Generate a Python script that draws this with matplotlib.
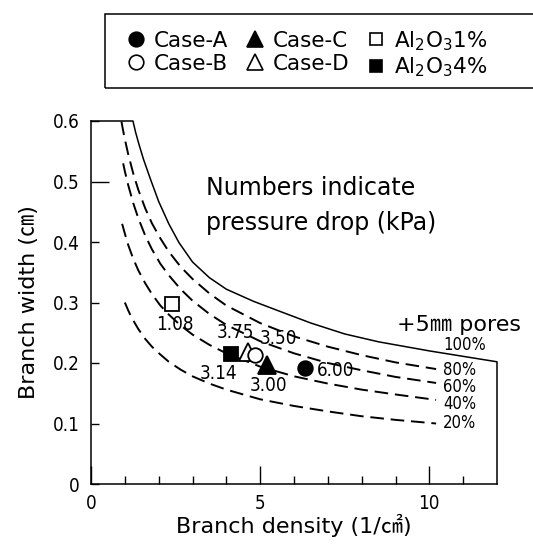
import matplotlib
matplotlib.use('Agg')
import matplotlib.pyplot as plt
from matplotlib.lines import Line2D
from matplotlib.patches import Rectangle
from matplotlib import font_manager as fm

# ---------------- data ----------------
# 100 % curve (solid boundary)
c100_x = [1.24, 1.32, 1.42, 1.55, 1.75, 2.0, 2.3, 2.6, 3.0, 3.5, 4.0, 4.8, 5.6, 6.5, 7.5, 8.5, 10.0, 11.0, 12.0]
c100_y = [0.600, 0.581, 0.561, 0.537, 0.505, 0.467, 0.430, 0.399, 0.367, 0.341, 0.322, 0.302, 0.285, 0.266, 0.248, 0.235, 0.220, 0.211, 0.202]
# 80 %
c80_x = [0.9, 0.95, 1.0, 1.1, 1.25, 1.4, 1.6, 1.8, 2.05, 2.3, 2.65, 3.0, 3.5, 4.0, 5.0, 6.0, 7.0, 8.0, 9.0, 10.2]
c80_y = [0.599, 0.584, 0.570, 0.545, 0.513, 0.486, 0.456, 0.431, 0.406, 0.384, 0.359, 0.339, 0.315, 0.295, 0.266, 0.244, 0.227, 0.213, 0.201, 0.190]
# 60 %
c60_x = [0.95, 1.0, 1.1, 1.25, 1.4, 1.6, 1.8, 2.05, 2.3, 2.65, 3.0, 3.5, 4.0, 5.0, 6.0, 7.0, 8.0, 9.0, 10.2]
c60_y = [0.530, 0.517, 0.494, 0.464, 0.439, 0.411, 0.388, 0.364, 0.345, 0.322, 0.303, 0.281, 0.263, 0.236, 0.216, 0.200, 0.188, 0.177, 0.167]
# 40 %
c40_x = [0.92, 1.0, 1.1, 1.25, 1.4, 1.6, 1.8, 2.05, 2.3, 2.65, 3.0, 3.5, 4.0, 5.0, 6.0, 7.0, 8.0, 9.0, 10.2]
c40_y = [0.430, 0.414, 0.395, 0.372, 0.353, 0.332, 0.314, 0.295, 0.280, 0.262, 0.247, 0.230, 0.216, 0.194, 0.178, 0.166, 0.156, 0.148, 0.139]
# 20 %
c20_x = [1.0, 1.1, 1.2, 1.4, 1.6, 1.8, 2.05, 2.3, 2.65, 3.0, 3.5, 4.0, 5.0, 6.0, 7.0, 8.0, 9.0, 10.2]
c20_y = [0.300, 0.287, 0.275, 0.256, 0.240, 0.227, 0.214, 0.202, 0.189, 0.178, 0.166, 0.156, 0.140, 0.129, 0.120, 0.112, 0.106, 0.100]

curve_labels = ['100%', '80%', '60%', '40%', '20%']
curve_label_y = [0.230, 0.188, 0.160, 0.132, 0.101]

# measured cases
case_names = ['Case-A', 'Case-B', 'Case-C', 'Case-D', 'Al$_2$O$_3$1%', 'Al$_2$O$_3$4%']
case_x = [6.33, 4.84, 5.21, 4.64, 2.40, 4.15]
case_y = [0.192, 0.213, 0.197, 0.219, 0.298, 0.215]
pressure_text = ['6.00', '3.50', '3.00', '3.75', '1.08', '3.14']
pressure_x = [7.22, 5.53, 5.24, 4.26, 2.49, 3.76]
pressure_y = [0.187, 0.240, 0.162, 0.251, 0.263, 0.183]

x_major = [0, 5, 10]
x_minor = [1, 2, 3, 4, 6, 7, 8, 9, 11]
y_ticks = [0, 0.1, 0.2, 0.3, 0.4, 0.5, 0.6]
y_ticklabels = ['0', '0.1', '0.2', '0.3', '0.4', '0.5', '0.6']

# ---------------- fonts ----------------
avail = {f.name for f in fm.fontManager.ttflist}
if 'Liberation Sans Narrow' in avail:
    NARROW, NSTRETCH = 'Liberation Sans Narrow', 'normal'
else:
    NARROW, NSTRETCH = 'DejaVu Sans', 'condensed'
WIDE = ['DejaVu Sans', 'Noto Sans CJK JP']

# ---------------- figure ----------------
W, H = 533, 544
fig = plt.figure(figsize=(W / 100, H / 100), dpi=100)
ax = fig.add_axes([91 / W, 1 - 484 / H, 406 / W, 363 / H])
ax.set_xlim(0, 12)
ax.set_ylim(0, 0.6)

for s in ['top', 'right']:
    ax.spines[s].set_visible(False)
for s in ['left', 'bottom']:
    ax.spines[s].set_linewidth(1.1)

# frame closing line: top edge -> 100% curve -> right edge
frame_x = [0] + c100_x + [12.0]
frame_y = [0.6] + c100_y + [0.0]
ax.plot(frame_x, frame_y, color='black', lw=1.1, clip_on=False, solid_joinstyle='round')

dash = (0, (7, 3.5))
for cx, cy in [(c80_x, c80_y), (c60_x, c60_y), (c40_x, c40_y), (c20_x, c20_y)]:
    ax.plot(cx, cy, color='black', lw=1.4, ls=dash, clip_on=False)

# curve labels
for lab, yy in zip(curve_labels, curve_label_y):
    ax.text(10.41, yy, lab, ha='left', va='center', fontsize=12,
            family=NARROW, stretch=NSTRETCH)

ax.text(9.05, 0.262, '+5\u339c pores', ha='left', va='center', fontsize=16, family=WIDE)
ax.text(3.40, 0.478, 'Numbers indicate', ha='left', va='baseline', fontsize=17, family=WIDE)
ax.text(3.40, 0.420, 'pressure drop (kPa)', ha='left', va='baseline', fontsize=17, family=WIDE)

# markers
styles = [
    dict(marker='o', mfc='black', mec='black', ms=10.5),
    dict(marker='o', mfc='white', mec='black', ms=10.5),
    dict(marker='^', mfc='black', mec='black', ms=13),
    dict(marker='^', mfc='white', mec='black', ms=13),
    dict(marker='s', mfc='white', mec='black', ms=10),
    dict(marker='s', mfc='black', mec='black', ms=10),
]
draw_order = [3, 1, 2, 0, 4, 5]
for i in draw_order:
    ax.plot([case_x[i]], [case_y[i]], ls='none', mew=1.3, zorder=5, **styles[i])

for t, xx, yy in zip(pressure_text, pressure_x, pressure_y):
    ax.text(xx, yy, t, ha='center', va='center', fontsize=13.5,
            family=NARROW, stretch=NSTRETCH, zorder=6)

# ticks
ax.set_xticks(x_major)
ax.set_xticks(x_minor, minor=True)
ax.set_yticks(y_ticks)
ax.set_yticklabels(y_ticklabels)
ax.tick_params(axis='x', which='major', direction='in', length=13, width=1.0, pad=7, labelsize=13.5)
ax.tick_params(axis='x', which='minor', direction='in', length=6, width=1.0)
ax.tick_params(axis='y', which='major', direction='in', length=6, width=1.0, pad=8, labelsize=13.5)
ax.yaxis.get_major_ticks()[5].tick1line.set_markersize(13)
for lab in ax.get_xticklabels() + ax.get_yticklabels():
    lab.set_family(NARROW)
    lab.set_stretch(NSTRETCH)

ax.set_xlabel('Branch density (1/\u33a0)', fontsize=16, family=WIDE, labelpad=1)
ax.set_ylabel('Branch width (\u339d)', fontsize=16, family=WIDE, labelpad=10)

# legend
leg_ms = [10.5, 10.5, 12, 12, 9, 9]
leg_handles = []
for i in range(6):
    st = dict(styles[i])
    st['ms'] = leg_ms[i]
    leg_handles.append(Line2D([], [], ls='none', mew=1.2, **st))
fig.legend(leg_handles, case_names, ncol=3, loc='upper left',
           bbox_to_anchor=(125 / W, 1 - 29 / H), borderaxespad=0, borderpad=0,
           frameon=False, handlelength=1.0, handletextpad=0.35,
           columnspacing=0.72, labelspacing=0.12,
           prop=dict(family=WIDE, size=15.5))

fig.add_artist(Rectangle((105 / W, 1 - 88 / H), (560 - 105) / W, 74 / H,
                         transform=fig.transFigure, fill=False, lw=1.1,
                         edgecolor='black', clip_on=False))

fig.savefig('out.png', dpi=100)
